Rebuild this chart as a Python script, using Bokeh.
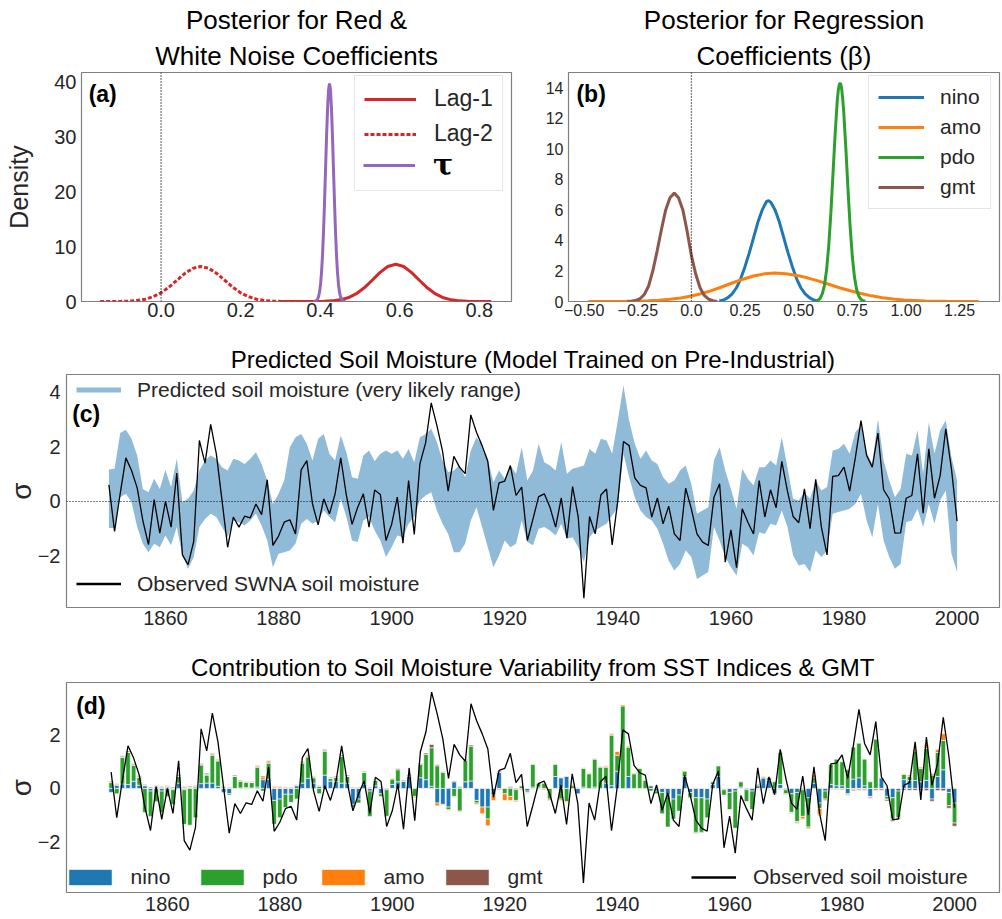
import numpy as np
from bokeh.plotting import figure
from bokeh.models import Range1d, Span, Label, Legend, LegendItem, Title, FixedTicker
from bokeh.layouts import column, row
from bokeh.embed import file_html
from bokeh.resources import INLINE

FONT = "Liberation Sans"
RED = "#d62728"; PURPLE = "#9467bd"; BLUE = "#1f77b4"; ORANGE = "#ff7f0e"
GREEN = "#2ca02c"; BROWN = "#8c564b"; BAND = "#8fbbd9"; TXT = "#262626"

# ---------------- panel (a) densities ----------------
lag1_x = [0.30, 0.37, 0.41, 0.43, 0.45, 0.47, 0.49, 0.51, 0.53, 0.55, 0.57, 0.59, 0.61, 0.63, 0.65, 0.67,
          0.69, 0.71, 0.73, 0.75, 0.77, 0.79, 0.81, 0.83]
lag1_y = [0.0, 0.003, 0.04, 0.115, 0.30, 0.68, 1.38, 2.45, 3.83, 5.27, 6.38, 6.8, 6.38, 5.27, 3.83, 2.45,
          1.38, 0.68, 0.30, 0.115, 0.04, 0.012, 0.003, 0.0]
lag2_x = [-0.153, -0.10, -0.08, -0.06, -0.04, -0.02, 0.00, 0.02, 0.04, 0.06, 0.08, 0.10, 0.12, 0.14, 0.16,
          0.18, 0.20, 0.22, 0.24, 0.26, 0.28, 0.30, 0.34, 0.38]
lag2_y = [0.0, 0.025, 0.07, 0.18, 0.42, 0.87, 1.59, 2.63, 3.88, 5.12, 6.05, 6.4, 6.05, 5.12, 3.88,
          2.63, 1.59, 0.87, 0.42, 0.18, 0.07, 0.025, 0.003, 0.0]
tau_x = [0.3835, 0.3885, 0.391, 0.3935, 0.396, 0.3985, 0.401, 0.4035, 0.406, 0.4085, 0.411, 0.4135, 0.416,
         0.4185, 0.421, 0.4235, 0.426, 0.4285, 0.431, 0.4335, 0.436, 0.4385, 0.441, 0.4435, 0.446, 0.4485,
         0.451, 0.4535, 0.456, 0.4585, 0.4635]
tau_y = [0.0, 0.09, 0.2, 0.44, 0.91, 1.75, 3.2, 5.4, 8.6, 12.9, 18.2, 24.1, 30.0, 35.1, 38.6, 39.8, 38.6,
         35.1, 30.0, 24.1, 18.2, 12.9, 8.6, 5.4, 3.2, 1.75, 0.91, 0.44, 0.2, 0.09, 0.0]

# ---------------- panel (b) densities ----------------
nino_x = [0.13, 0.15, 0.17, 0.19, 0.21, 0.23, 0.25, 0.27, 0.29, 0.31, 0.33, 0.35, 0.36, 0.37, 0.39, 0.41,
          0.43, 0.45, 0.47, 0.49, 0.51, 0.53, 0.55, 0.57, 0.59]
nino_y = [0.03, 0.1, 0.25, 0.5, 0.9, 1.5, 2.3, 3.2, 4.2, 5.2, 6.0, 6.55, 6.6, 6.5, 6.0, 5.2,
          4.2, 3.2, 2.3, 1.5, 0.9, 0.5, 0.25, 0.1, 0.03]
amo_x = [-0.48, -0.40, -0.30, -0.25, -0.20, -0.15, -0.10, -0.05, 0.00, 0.04, 0.09, 0.14, 0.19, 0.24, 0.29,
         0.34, 0.39, 0.44, 0.49, 0.54, 0.59, 0.64, 0.69, 0.74, 0.79, 0.84, 0.89, 0.94, 0.99, 1.09, 1.19, 1.34]
amo_y = [0.0, 0.002, 0.011, 0.022, 0.043, 0.08, 0.14, 0.23, 0.36, 0.49, 0.70, 0.95, 1.21, 1.46, 1.67,
         1.81, 1.86, 1.82, 1.71, 1.55, 1.35, 1.13, 0.90, 0.70, 0.52, 0.37, 0.25, 0.165, 0.105, 0.038, 0.011, 0.001]
pdo_x = [0.58, 0.59, 0.60, 0.61, 0.62, 0.63, 0.64, 0.65, 0.66, 0.67, 0.68, 0.685, 0.69, 0.695, 0.70, 0.705,
         0.71, 0.72, 0.73, 0.74, 0.75, 0.76, 0.77, 0.78, 0.79, 0.80, 0.81]
pdo_y = [0.03, 0.08, 0.21, 0.50, 1.06, 2.06, 3.63, 5.8, 8.4, 11.0, 13.2, 13.9, 14.25, 14.3, 13.96, 13.3,
         12.4, 10.0, 7.3, 4.86, 2.93, 1.6, 0.79, 0.35, 0.145, 0.053, 0.018]
gmt_x = [-0.30, -0.28, -0.26, -0.24, -0.22, -0.20, -0.18, -0.16, -0.14, -0.12, -0.10, -0.08, -0.06, -0.04,
         -0.02, 0.00, 0.02, 0.04, 0.06, 0.08, 0.10, 0.12]
gmt_y = [0.0, 0.02, 0.06, 0.18, 0.45, 1.0, 2.0, 3.3, 4.7, 6.0, 6.8, 7.1, 6.8, 6.0,
         4.6, 3.0, 1.8, 0.9, 0.4, 0.15, 0.05, 0.0]

# ---------------- panels (c) and (d) ----------------
years = list(range(1850, 2001))
observed = [
    0.61, -1.10, 0.30, 1.60, 1.14, 0.50, -0.70, -1.58, 0.07, -1.16,
    0.00, -0.94, 1.04, -1.96, -2.32, -1.46, 2.24, 1.41, 2.83, 1.75,
    0.04, -1.68, -0.57, -0.94, -0.54, -0.60, -0.09, -0.48, 0.80, -1.61,
    -1.27, -0.76, -0.67, -1.19, 1.16, 1.50, -0.09, -0.86, 0.10, -0.45,
    0.28, 1.60, 0.22, -0.84, -0.21, 0.28, -0.94, 0.42, 0.26, -1.43,
    -0.84, 0.16, -1.53, 0.77, -1.21, 1.38, 2.14, 3.62, 2.79, 1.85,
    0.38, 1.66, 1.26, 1.02, 3.18, 2.54, 2.05, 1.48, -0.33, 0.68,
    0.75, 1.32, 0.22, 0.53, -1.43, -0.64, 0.18, 0.28, -0.21, -0.94,
    0.13, -1.35, 0.55, -0.57, -3.55, -0.55, -1.19, 0.24, 0.46, -1.59,
    0.04, 2.20, 2.05, 0.87, 0.59, 0.50, -0.57, 0.13, -0.82, -0.17,
    -1.19, -1.43, 0.49, -0.27, -1.19, -1.49, -1.61, 0.16, 0.65, -2.23,
    -1.04, -2.43, -0.27, -0.76, -1.19, 0.77, -0.57, 0.43, -0.23, 1.47,
    0.38, -0.55, -0.78, 0.46, -1.00, 0.81, -0.94, -1.96, 0.92, 0.95,
    1.26, 0.38, 1.60, 2.97, 1.69, 1.26, 2.51, 0.43, 0.10, -1.16,
    -1.15, 0.12, 0.22, 1.75, -0.43, 1.93, 0.12, 0.95, 2.67, 1.20,
    -0.72]
band_upper = [
    1.17, 1.20, 2.51, 2.63, 2.30, 1.69, 0.46, 0.34, 0.83, 0.46,
    1.16, 0.53, 1.57, -0.02, 0.10, 0.40, 1.14, 1.50, 1.69, 1.57,
    1.26, 1.14, 1.57, 1.50, 1.38, 1.57, 1.81, 1.38, 0.77, -0.09,
    0.28, 0.77, 1.99, 2.36, 2.48, 2.12, 1.50, 2.30, 2.48, 1.75,
    1.50, 2.42, 1.81, 0.89, 0.83, 1.69, 1.87, 1.48, 1.75, 1.87,
    1.75, 1.87, 1.57, 1.93, 1.44, 2.36, 2.48, 2.67, 2.18, 1.50,
    1.08, 1.14, 1.32, 0.89, 1.87, 2.36, 2.06, 1.57, 0.71, 1.14,
    0.83, 1.32, 1.02, 1.99, 0.77, 1.14, 2.12, 1.44, 1.32, 1.14,
    2.18, 1.02, 1.20, 1.26, 1.32, 1.93, 1.75, 2.30, 2.24, 1.75,
    2.97, 4.26, 2.97, 2.12, 1.57, 1.87, 1.50, 1.38, 0.89, 0.65,
    0.77, 1.14, 1.32, 0.65, -0.45, -0.33, -0.21, 1.50, 1.99, 1.14,
    0.46, -0.27, 1.20, 0.83, 0.59, 1.26, 1.26, 1.50, 1.32, 2.36,
    1.26, 0.10, 0.04, 0.34, 0.10, 0.77, 0.40, 0.53, 1.87, 1.93,
    2.12, 1.75, 2.54, 2.79, 1.81, 1.38, 3.03, 1.50, 0.77, 0.16,
    0.46, 1.75, 1.69, 2.61, 1.02, 2.91, 1.75, 2.61, 2.97, 1.63,
    0.77]
band_lower = [
    -0.97, -0.97, 0.16, 0.28, -0.02, -0.94, -1.55, -1.86, -1.55, -1.68,
    -1.25, -1.61, -0.94, -1.98, -2.47, -2.04, -0.94, -0.64, -0.45, -0.57,
    -0.94, -1.31, -0.70, -0.76, -0.88, -0.70, -0.45, -0.88, -1.43, -2.41,
    -1.92, -1.86, -1.80, -1.55, -0.82, -0.64, -0.82, -0.70, -0.33, -0.57,
    -0.76, 0.10, -0.57, -1.43, -1.49, -0.70, -0.57, -1.06, -1.43, -2.04,
    -1.68, -1.25, -1.31, -0.82, -0.57, 0.04, 0.22, 0.34, -0.33, -0.82,
    -1.19, -1.86, -1.86, -1.55, -0.70, -0.21, -0.94, -1.68, -2.41, -1.98,
    -1.43, -1.68, -1.55, -0.70, -1.49, -1.61, -1.00, -0.94, -1.06, -1.25,
    -0.82, -1.37, -1.31, -1.68, -2.23, -1.31, -1.06, -0.94, -0.82, -0.51,
    -0.21, 1.75, 0.89, 0.16, -0.33, -0.57, -0.70, -1.00, -1.55, -2.17,
    -2.53, -2.29, -1.80, -2.04, -2.84, -2.72, -2.59, -0.94, -1.43, -2.04,
    -2.41, -2.72, -1.55, -1.68, -1.98, -1.13, -1.19, -0.82, -0.88, -0.33,
    -0.94, -1.98, -2.35, -2.29, -2.59, -1.80, -2.04, -1.80, -0.45, -0.39,
    -0.33, -0.27, -0.09, 0.28, -0.70, -1.31, -0.09, -1.43, -2.04, -2.47,
    -2.29, -0.76, -0.70, -0.27, -0.94, -0.09, -0.82, 0.04, 0.40, -1.92,
    -2.59]
contrib_nino = [
    -0.15, 0.12, 0.17, 0.15, 0.27, 0.12, 0.10, -0.10, 0.05, -0.10,
    0.05, -0.05, 0.20, -0.05, 0.03, 0.05, 0.18, 0.20, 0.20, 0.08,
    -0.15, -0.20, 0.00, 0.02, 0.03, 0.02, 0.05, 0.33, 0.35, -0.45,
    -0.40, -0.22, -0.22, 0.10, 0.20, 0.38, 0.20, 0.08, 0.50, 0.27,
    0.27, 0.20, 0.20, -0.60, -0.40, 0.15, -0.10, 0.10, -0.20, -0.05,
    0.15, 0.25, 0.27, 0.45, 0.00, 0.40, 0.33, 0.08, -0.55, -0.60,
    -0.70, 0.25, 0.05, 0.25, 0.28, -0.45, -0.70, -0.70, -0.25, 0.60,
    0.00, 0.05, -0.05, 0.00, -0.10, 0.05, 0.05, 0.00, 0.00, 0.45,
    0.40, 0.45, 0.00, -0.20, 0.05, 0.00, 0.05, 0.00, 0.20, 0.10,
    0.65, 0.00, 0.45, 0.00, 0.00, 0.00, 0.10, -0.10, -0.15, -0.25,
    -0.40, -0.25, 0.45, -0.15, -0.35, -0.35, -0.40, 0.15, 0.45, -0.05,
    -0.15, -0.10, 0.05, -0.05, -0.10, 0.10, 0.40, 0.30, -0.20, 0.15,
    -0.05, -0.20, -0.15, -0.05, -0.35, 0.20, -0.55, -0.10, 0.15, 0.10,
    0.10, -0.20, 0.35, 0.40, 0.10, -0.30, 0.00, 0.40, -0.30, -0.35,
    -0.10, 0.33, 0.30, 0.30, 0.25, 0.30, -0.40, 0.45, 0.70, -0.15,
    -0.55]
contrib_pdo = [
    0.22, -0.20, 1.00, 1.20, 0.60, 0.30, -0.90, -0.95, -0.50, -0.80,
    -0.30, -0.55, 0.25, -1.30, -1.38, -1.10, 0.70, 0.30, 1.05, 0.95,
    0.00, -0.05, 0.45, 0.25, 0.20, 0.20, 0.75, -0.10, 0.60, -0.90,
    -0.70, -0.50, -0.30, -0.40, 0.75, 0.80, 0.20, -0.20, 0.90, 0.10,
    0.15, 1.00, 0.25, -0.10, -0.15, 0.45, -0.95, 0.20, -0.10, -1.00,
    0.20, 0.45, 0.00, 0.00, -0.30, 0.50, 0.95, 1.45, 0.85, 0.60,
    -0.10, -0.30, -0.85, 0.80, 1.30, -0.10, 0.00, -0.45, 0.00, 0.00,
    -0.20, -0.30, -0.40, 0.10, -0.05, 0.85, 0.15, 0.20, -0.40, 0.45,
    -0.40, -0.50, 0.10, 0.00, 0.70, 0.55, 1.05, 0.80, 0.60, 1.90,
    0.60, 3.10, 1.10, 0.55, 0.75, 0.30, -0.10, -0.10, -0.80, -1.20,
    -0.75, -0.60, 0.20, -0.20, -1.30, -1.30, -0.70, 0.10, 0.40, -0.20,
    -0.65, -1.40, 0.20, -0.45, -0.70, 0.05, 0.00, 0.10, 0.25, 1.20,
    -0.15, -0.70, -1.10, -1.00, -1.10, 0.20, -0.20, -0.30, 0.75, 1.00,
    0.90, 0.70, 1.20, 1.30, 1.00, 0.25, 1.85, 0.00, -0.10, -0.80,
    -1.00, 0.20, 0.15, 1.10, 0.50, 1.20, 0.50, 0.90, 1.10, -0.50,
    -0.75]
contrib_amo = [
    0.03, 0.03, 0.02, 0.02, 0.02, 0.02, 0.02, 0.02, 0.03, 0.03,
    0.02, 0.02, 0.02, 0.03, 0.03, 0.03, 0.02, 0.02, 0.02, 0.02,
    0.06, 0.02, 0.02, 0.02, -0.03, 0.02, 0.02, 0.10, 0.05, 0.05,
    0.05, 0.03, 0.03, 0.02, 0.02, 0.02, 0.02, 0.02, 0.02, 0.02,
    0.02, 0.02, 0.02, 0.02, 0.03, 0.02, 0.02, 0.02, 0.02, -0.02,
    -0.02, -0.02, 0.02, 0.02, -0.05, -0.02, -0.02, -0.03, -0.10, -0.03,
    -0.03, -0.03, -0.03, -0.03, -0.03, -0.05, -0.25, -0.25, -0.20, -0.05,
    -0.25, -0.15, -0.05, -0.05, -0.03, -0.03, -0.03, -0.05, -0.05, -0.03,
    -0.05, -0.03, 0.05, 0.03, 0.03, 0.03, 0.03, 0.03, 0.04, 0.05,
    0.15, 0.05, 0.05, 0.04, 0.04, 0.04, 0.03, 0.03, 0.03, 0.03,
    0.03, 0.03, 0.03, 0.03, 0.03, 0.02, 0.02, 0.02, 0.02, 0.02,
    0.02, 0.02, 0.02, -0.02, -0.02, -0.02, 0.05, -0.02, -0.02, -0.03,
    -0.03, -0.03, -0.05, -0.10, -0.05, 0.10, -0.25, -0.05, -0.03, -0.03,
    -0.03, -0.03, -0.05, -0.03, -0.03, -0.03, -0.02, -0.02, -0.02, -0.02,
    0.02, 0.02, 0.05, 0.05, 0.05, 0.15, 0.05, 0.10, 0.25, 0.03,
    0.03]
contrib_gmt = [
    0.03, 0.03, 0.04, 0.04, 0.04, 0.04, 0.03, 0.03, 0.03, 0.03,
    0.03, 0.03, 0.04, 0.03, 0.03, 0.03, 0.04, 0.05, 0.04, 0.04,
    0.02, 0.02, 0.03, 0.03, 0.02, 0.02, 0.04, 0.04, 0.04, 0.02,
    0.02, 0.02, 0.02, 0.02, 0.04, 0.04, 0.03, 0.02, 0.04, 0.03,
    0.03, 0.04, 0.03, 0.02, 0.02, 0.03, 0.02, 0.02, 0.02, 0.02,
    0.02, 0.04, 0.03, 0.03, 0.02, 0.04, 0.05, 0.12, 0.04, 0.03,
    0.03, 0.03, 0.02, 0.04, 0.05, 0.02, 0.02, 0.02, 0.02, 0.05,
    0.02, 0.02, 0.02, 0.01, 0.01, 0.02, 0.01, 0.01, 0.01, 0.02,
    0.02, 0.02, 0.01, 0.01, 0.01, 0.01, 0.01, 0.01, 0.01, 0.01,
    0.00, 0.00, 0.00, 0.00, 0.00, 0.00, 0.00, 0.00, 0.00, 0.00,
    0.00, 0.00, 0.00, 0.00, -0.03, -0.02, 0.00, 0.00, 0.00, 0.00,
    -0.01, -0.01, -0.01, -0.01, -0.01, -0.02, -0.02, -0.02, -0.02, -0.02,
    -0.02, -0.02, -0.02, -0.02, -0.02, -0.02, -0.02, -0.02, -0.02, -0.02,
    -0.03, -0.03, -0.04, -0.04, -0.04, -0.04, -0.05, -0.05, -0.05, -0.06,
    -0.06, -0.06, -0.07, -0.07, -0.07, -0.08, -0.08, -0.08, -0.09, -0.09,
    -0.12]


def make_fig(w, h, bl, br, bt, bb, xr, yr):
    p = figure(width=w, height=h, min_border_left=bl, min_border_right=br,
               min_border_top=bt, min_border_bottom=bb, title=None,
               x_range=Range1d(*xr), y_range=Range1d(*yr),
               output_backend="svg", toolbar_location=None)
    p.outline_line_color = "#808080"
    p.outline_line_width = 1.2
    p.xgrid.visible = False
    p.ygrid.visible = False
    p.background_fill_color = "white"
    p.border_fill_color = "white"
    for ax in (p.xaxis[0], p.yaxis[0]):
        ax.axis_line_color = None
        ax.major_tick_line_color = None
        ax.minor_tick_line_color = None
        ax.major_tick_out = 0
        ax.major_tick_in = 0
        ax.minor_tick_out = 0
        ax.minor_tick_in = 0
        ax.major_label_text_font = FONT
        ax.major_label_text_color = TXT
        ax.axis_label_text_font = FONT
        ax.axis_label_text_font_style = "normal"
        ax.axis_label_text_color = TXT
    return p


def add_title(p, text, size, standoff):
    p.add_layout(Title(text=text, align="center", text_font=FONT, text_font_size=size,
                       text_font_style="normal", text_color="black", standoff=standoff), "above")


def panel_label(p, x, y, text):
    p.add_layout(Label(x=x, y=y, text=text, text_font=FONT, text_font_size="23px",
                       text_font_style="bold", text_baseline="middle", text_align="left",
                       text_color="black"))


def style_legend(lg, size, framed):
    lg.label_text_font = FONT
    lg.label_text_font_size = size
    lg.label_text_color = TXT
    lg.margin = 0
    if framed:
        lg.border_line_color = "#cccccc"
        lg.border_line_width = 1
        lg.background_fill_color = "white"
        lg.background_fill_alpha = 0.85
    else:
        lg.border_line_color = None
        lg.background_fill_alpha = 0.0
        lg.padding = 0


# ---------------- (a) ----------------
pa = make_fig(530, 335, 81, 19, 72, 34, (-0.2, 0.881), (0, 41.8))
add_title(pa, "White Noise Coefficients", "26px", 4)
add_title(pa, "Posterior for Red &", "26px", 3)
pa.add_layout(Span(location=0, dimension="height", line_color="black", line_dash="1 2", line_width=1.3))
ra1 = pa.line(lag1_x, lag1_y, line_color=RED, line_width=3)
ra2 = pa.line(lag2_x, lag2_y, line_color=RED, line_width=3, line_dash="4 2")
ra3 = pa.line(tau_x, tau_y, line_color=PURPLE, line_width=3)
ra_blank = pa.line(x=[5, 6], y=[0, 0], line_alpha=0.0)
pa.xaxis.ticker = FixedTicker(ticks=[0.0, 0.2, 0.4, 0.6, 0.8])
pa.xaxis.major_label_overrides = {0.0: "0.0", 0.2: "0.2", 0.4: "0.4", 0.6: "0.6", 0.8: "0.8"}
pa.yaxis.ticker = FixedTicker(ticks=[0, 10, 20, 30, 40])
pa.xaxis.major_label_text_font_size = "20px"
pa.yaxis.major_label_text_font_size = "20px"
pa.xaxis.major_label_standoff = 1
pa.yaxis.major_label_standoff = 5
pa.yaxis.axis_label = "Density"
pa.yaxis.axis_label_text_font_size = "25px"
pa.yaxis.axis_label_standoff = 18
panel_label(pa, -0.182, 37.9, "(a)")
lga = Legend(items=[LegendItem(label="Lag-1", renderers=[ra1]),
                    LegendItem(label="Lag-2", renderers=[ra2]),
                    LegendItem(label=" ", renderers=[ra_blank])],
             location=(273, 110), padding=9, spacing=8, glyph_width=52, glyph_height=26,
             label_height=26, label_standoff=18)
style_legend(lga, "23px", True)
pa.add_layout(lga)
# third legend row drawn on top with the serif bold tau, like the reference
lga_tau = Legend(items=[LegendItem(label="τ", renderers=[ra3])],
                 location=(282, 119), glyph_width=52, glyph_height=28, label_height=28, label_standoff=18)
style_legend(lga_tau, "30px", False)
lga_tau.label_text_font = "DejaVu Serif"
lga_tau.label_text_font_style = "bold"
lga_tau.label_text_color = "black"
pa.add_layout(lga_tau)

# ---------------- (b) ----------------
pb = make_fig(472, 335, 38, 3, 72, 34, (-0.573, 1.436), (0, 15.0))
add_title(pb, "Coefficients (β)", "26px", 4)
add_title(pb, "Posterior for Regression", "26px", 3)
pb.add_layout(Span(location=0, dimension="height", line_color="black", line_dash="1 2", line_width=1.3))
rb1 = pb.line(nino_x, nino_y, line_color=BLUE, line_width=3)
rb2 = pb.line(amo_x, amo_y, line_color=ORANGE, line_width=3)
rb3 = pb.line(pdo_x, pdo_y, line_color=GREEN, line_width=3)
rb4 = pb.line(gmt_x, gmt_y, line_color=BROWN, line_width=3)
pb.xaxis.ticker = FixedTicker(ticks=[-0.5, -0.25, 0.0, 0.25, 0.5, 0.75, 1.0, 1.25])
pb.xaxis.major_label_overrides = {-0.5: "−0.50", -0.25: "−0.25", 0.0: "0.0", 0.25: "0.25",
                                  0.5: "0.50", 0.75: "0.75", 1.0: "1.00", 1.25: "1.25"}
pb.yaxis.ticker = FixedTicker(ticks=[0, 2, 4, 6, 8, 10, 12, 14])
pb.xaxis.major_label_text_font_size = "16px"
pb.yaxis.major_label_text_font_size = "16px"
pb.xaxis.major_label_standoff = 2
pb.yaxis.major_label_standoff = 5
panel_label(pb, -0.536, 13.62, "(b)")
lgb = Legend(items=[LegendItem(label="nino", renderers=[rb1]),
                    LegendItem(label="amo", renderers=[rb2]),
                    LegendItem(label="pdo", renderers=[rb3]),
                    LegendItem(label="gmt", renderers=[rb4])],
             location=(300, 92), padding=9, spacing=6, glyph_width=46, glyph_height=24,
             label_height=24, label_standoff=16)
style_legend(lgb, "21px", True)
pb.add_layout(lgb)

# ---------------- (c) ----------------
XC = (1842.5, 2007.5)
pc = make_fig(1002, 303, 66, 2, 39, 31, XC, (-3.89, 4.66))
add_title(pc, "Predicted Soil Moisture (Model Trained on Pre-Industrial)", "24px", 3)
pc.varea(x=years, y1=band_lower, y2=band_upper, fill_color=BAND, fill_alpha=1.0)
pc.line(years, observed, line_color="black", line_width=1.3)
pc.add_layout(Span(location=0, dimension="width", line_color="black", line_dash="1 2", line_width=1.1))
# legend-only handles placed outside the visible x-range
rc_band = pc.line(x=[1700, 1701], y=[0, 0], line_color=BAND, line_width=5)
rc_obs = pc.line(x=[1700, 1701], y=[0, 0], line_color="black", line_width=2.5)
pc.xaxis.ticker = FixedTicker(ticks=[1860, 1880, 1900, 1920, 1940, 1960, 1980, 2000])
pc.yaxis.ticker = FixedTicker(ticks=[-2, 0, 2, 4])
pc.yaxis.major_label_overrides = {-2: "−2"}
pc.xaxis.major_label_text_font_size = "20px"
pc.yaxis.major_label_text_font_size = "20px"
pc.xaxis.major_label_standoff = 3
pc.yaxis.major_label_standoff = 6
pc.yaxis.axis_label = "σ"
pc.yaxis.axis_label_text_font_size = "28px"
pc.yaxis.axis_label_standoff = -2
panel_label(pc, 1843.5, 3.22, "(c)")
lgc1 = Legend(items=[LegendItem(label="Predicted soil moisture (very likely range)", renderers=[rc_band])],
              location=(10, 205), glyph_width=45, glyph_height=25, label_height=25, label_standoff=16)
style_legend(lgc1, "21px", False)
pc.add_layout(lgc1)
lgc2 = Legend(items=[LegendItem(label="Observed SWNA soil moisture", renderers=[rc_obs])],
              location=(10, 11), glyph_width=45, glyph_height=25, label_height=25, label_standoff=16)
style_legend(lgc2, "21px", False)
pc.add_layout(lgc2)

# ---------------- (d) ----------------
XD = (1842.06, 2008.0)
pd_ = make_fig(1002, 281, 63, 3, 44, 27, XD, (-3.91, 3.98))
add_title(pd_, "Contribution to Soil Moisture Variability from SST Indices & GMT", "24px", 3)
pos = np.zeros(len(years))
neg = np.zeros(len(years))
bar_renderers = []
for vals, col in ((contrib_nino, BLUE), (contrib_pdo, GREEN), (contrib_amo, ORANGE), (contrib_gmt, BROWN)):
    v = np.array(vals, dtype=float)
    bottom = np.where(v >= 0, pos, neg)
    top = bottom + v
    pos = np.where(v >= 0, top, pos)
    neg = np.where(v < 0, top, neg)
    r = pd_.vbar(x=years, bottom=bottom, top=top, width=0.8, fill_color=col,
                 line_color="white", line_width=0.6)
    bar_renderers.append(r)
pd_.line(years, observed, line_color="black", line_width=1.3)
rd_obs = pd_.line(x=[1700, 1701], y=[0, 0], line_color="black", line_width=2.5)
pd_.xaxis.ticker = FixedTicker(ticks=[1860, 1880, 1900, 1920, 1940, 1960, 1980, 2000])
pd_.yaxis.ticker = FixedTicker(ticks=[-2, 0, 2])
pd_.yaxis.major_label_overrides = {-2: "−2"}
pd_.xaxis.major_label_text_font_size = "20px"
pd_.yaxis.major_label_text_font_size = "20px"
pd_.xaxis.major_label_standoff = 4
pd_.yaxis.major_label_standoff = 6
pd_.yaxis.axis_label = "σ"
pd_.yaxis.axis_label_text_font_size = "28px"
pd_.yaxis.axis_label_standoff = -2
panel_label(pd_, 1843.78, 3.08, "(d)")
for r, lab, vx in zip(bar_renderers, ["nino", "pdo", "amo", "gmt"], [-3.4, 128.6, 249.6, 373.6]):
    lg = Legend(items=[LegendItem(label=lab, renderers=[r])], location=(vx, 3.5),
                glyph_width=54, glyph_height=20, label_height=24, label_standoff=14)
    style_legend(lg, "21px", False)
    pd_.add_layout(lg)
lgd = Legend(items=[LegendItem(label="Observed soil moisture", renderers=[rd_obs])],
             location=(625, 3.5), glyph_width=45, glyph_height=24, label_height=24, label_standoff=17)
style_legend(lgd, "21px", False)
pd_.add_layout(lgd)

layout = column(row(pa, pb), pc, pd_)
open("out.html", "w").write(file_html(layout, INLINE))
